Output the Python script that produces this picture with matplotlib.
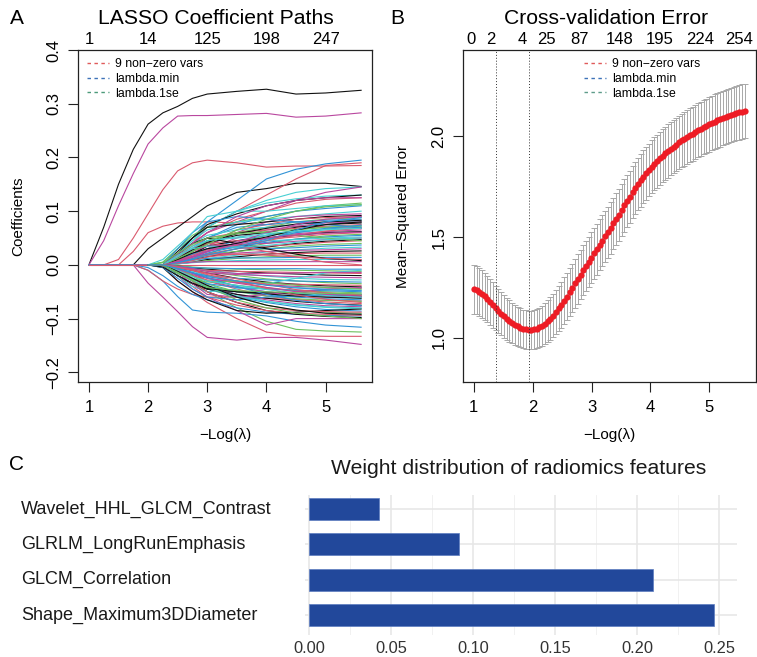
import matplotlib

matplotlib.use("Agg")

import matplotlib.pyplot as plt
import matplotlib.transforms as mtransforms
from matplotlib.lines import Line2D
from matplotlib.ticker import MultipleLocator

plt.rcParams["font.family"] = ["Liberation Sans", "DejaVu Sans"]

# ---------------- panel A: LASSO coefficient paths ----------------
path_knots = [1.0, 1.25, 1.5, 1.75, 2.0, 2.25, 2.5, 2.75, 3.0, 3.5, 4.0, 4.5, 5.0, 5.6]

lead_paths = [
    [0, 0.07, 0.15, 0.215, 0.262, 0.283, 0.295, 0.31, 0.318, 0.323, 0.327, 0.318, 0.32, 0.325],
    [0, 0.045, 0.11, 0.17, 0.225, 0.255, 0.277, 0.278, 0.278, 0.28, 0.282, 0.275, 0.277, 0.283],
    [0, 0, 0.01, 0.05, 0.095, 0.14, 0.175, 0.19, 0.195, 0.19, 0.182, 0.184, 0.184, 0.185],
    [0, 0, 0, 0.025, 0.06, 0.072, 0.078, 0.08, 0.08, 0.078, 0.075, 0.072, 0.07, 0.068],
    [0, 0, 0, 0, 0.03, 0.05, 0.07, 0.09, 0.11, 0.135, 0.142, 0.152, 0.152, 0.146],
    [0, 0, 0, 0, 0, 0, 0.02, 0.05, 0.08, 0.12, 0.16, 0.178, 0.188, 0.195],
    [0, 0, 0, 0, 0, 0, 0.015, 0.04, 0.07, 0.1, 0.13, 0.16, 0.185, 0.19],
    [0, 0, 0, 0, -0.034, -0.06, -0.087, -0.115, -0.135, -0.14, -0.135, -0.135, -0.14, -0.148],
    [0, 0, 0, 0, 0, 0, -0.03, -0.05, -0.07, -0.1, -0.125, -0.132, -0.133, -0.133],
    [0, 0, 0, 0, 0, 0, -0.02, -0.035, -0.05, -0.08, -0.105, -0.12, -0.123, -0.125],
    [0, 0, 0, 0, -0.01, -0.03, -0.059, -0.084, -0.088, -0.09, -0.095, -0.105, -0.112, -0.116],
    [0, 0, 0, 0, 0, 0, -0.02, -0.045, -0.06, -0.085, -0.112, -0.1, -0.1, -0.1],
    [0, 0, 0, 0, 0, 0, 0.02, 0.045, 0.07, 0.1, 0.12, 0.135, 0.142, 0.145],
    [0, 0, 0, 0, 0, 0.005, 0.03, 0.05, 0.07, 0.1, 0.115, 0.123, 0.128, 0.13],
    [0, 0, 0, 0, 0, 0, 0.02, 0.04, 0.06, 0.08, 0.1, 0.12, 0.135, 0.145],
    [0, 0, 0, 0, -0.01, -0.03, -0.045, -0.055, -0.06, -0.06, -0.062, -0.065, -0.066, -0.067],
    [0, 0, 0, 0, -0.005, -0.02, -0.04, -0.055, -0.065, -0.08, -0.088, -0.092, -0.094, -0.095],
    [0, 0, 0, 0, 0, 0, 0, 0, 0, 0, 0, 0, 0, 0],
]
lead_colors = [
    "#111111", "#B9479F", "#DA5A6E", "#DA5A6E", "#111111", "#3193D6",
    "#DA5A6E", "#B9479F", "#DA5A6E", "#6CC05E", "#3193D6", "#B9479F",
    "#48CFD3", "#48CFD3", "#B9479F", "#DA5A6E", "#3193D6", "#DA5A6E",
]

bulk_knots = [2.0, 2.25, 2.5, 2.75, 3.0, 3.5, 4.0, 4.5, 5.0, 5.6]
bulk_paths = [
    [0, 0, 0.02, 0.05, 0.075, 0.095, 0.11, 0.12, 0.125, 0.13],
    [0, 0, 0.015, 0.04, 0.06, 0.085, 0.1, 0.115, 0.122, 0.125],
    [0, 0.005, 0.03, 0.055, 0.07, 0.08, 0.09, 0.1, 0.11, 0.115],
    [0, 0, 0.01, 0.03, 0.05, 0.075, 0.09, 0.1, 0.105, 0.11],
    [0, 0, 0.02, 0.045, 0.065, 0.08, 0.085, 0.09, 0.095, 0.1],
    [0, 0, 0.01, 0.02, 0.035, 0.06, 0.08, 0.09, 0.093, 0.095],
    [0, 0, 0.025, 0.05, 0.07, 0.075, 0.08, 0.085, 0.09, 0.092],
    [0, 0, 0.005, 0.02, 0.04, 0.065, 0.075, 0.085, 0.088, 0.09],
    [0, 0, 0.015, 0.03, 0.045, 0.06, 0.07, 0.08, 0.085, 0.088],
    [0, 0, 0.01, 0.03, 0.05, 0.07, 0.075, 0.08, 0.083, 0.085],
    [0, 0, 0.02, 0.04, 0.055, 0.065, 0.07, 0.075, 0.08, 0.082],
    [0, 0, 0.005, 0.015, 0.03, 0.05, 0.065, 0.072, 0.078, 0.08],
    [0, 0, 0.01, 0.025, 0.04, 0.055, 0.06, 0.07, 0.075, 0.078],
    [0, 0, 0.015, 0.035, 0.05, 0.06, 0.065, 0.068, 0.072, 0.075],
    [0, 0, 0.005, 0.01, 0.02, 0.04, 0.055, 0.065, 0.07, 0.072],
    [0, 0, 0.01, 0.02, 0.03, 0.045, 0.055, 0.062, 0.067, 0.07],
    [0, 0, 0.02, 0.035, 0.045, 0.05, 0.055, 0.06, 0.065, 0.068],
    [0, 0, 0.005, 0.015, 0.025, 0.04, 0.05, 0.058, 0.062, 0.065],
    [0, 0, 0.01, 0.02, 0.035, 0.045, 0.05, 0.055, 0.06, 0.062],
    [0, 0, 0.015, 0.03, 0.04, 0.045, 0.048, 0.052, 0.057, 0.06],
    [0, 0, 0.005, 0.01, 0.02, 0.03, 0.04, 0.048, 0.054, 0.057],
    [0, 0, 0.01, 0.02, 0.025, 0.035, 0.042, 0.048, 0.052, 0.055],
    [0, 0, 0.005, 0.015, 0.03, 0.04, 0.045, 0.047, 0.05, 0.052],
    [0, 0, 0.01, 0.025, 0.035, 0.038, 0.04, 0.044, 0.047, 0.05],
    [0, 0, 0.005, 0.01, 0.015, 0.025, 0.033, 0.04, 0.044, 0.047],
    [0, 0, 0.01, 0.015, 0.02, 0.03, 0.035, 0.038, 0.042, 0.045],
    [0, 0, 0.005, 0.01, 0.02, 0.025, 0.03, 0.035, 0.038, 0.04],
    [0, 0, 0.01, 0.02, 0.03, 0.032, 0.03, 0.032, 0.035, 0.037],
    [0, 0, 0.005, 0.008, 0.012, 0.018, 0.024, 0.028, 0.031, 0.033],
    [0, 0, 0.01, 0.015, 0.02, 0.022, 0.025, 0.027, 0.028, 0.03],
    [0, 0, 0.002, 0.005, 0.01, 0.015, 0.02, 0.023, 0.025, 0.026],
    [0, 0, 0.005, 0.012, 0.018, 0.02, 0.02, 0.021, 0.022, 0.022],
    [0, 0, 0.002, 0.005, 0.008, 0.012, 0.015, 0.017, 0.018, 0.018],
    [0, 0, 0.005, 0.01, 0.012, 0.013, 0.013, 0.014, 0.014, 0.014],
    [0, 0, 0.002, 0.004, 0.006, 0.008, 0.009, 0.01, 0.01, 0.01],
    [0, 0, 0.003, 0.005, 0.006, 0.006, 0.006, 0.006, 0.006, 0.006],
    [0, 0, 0.02, 0.04, 0.05, 0.04, 0.03, 0.02, 0.012, 0.008],
    [0, 0, 0.015, 0.03, 0.04, 0.035, 0.025, 0.015, 0.005, 0.0],
    [0, 0, 0.01, 0.025, 0.045, 0.06, 0.06, 0.055, 0.05, 0.045],
    [0, 0, 0.03, 0.06, 0.08, 0.09, 0.085, 0.08, 0.075, 0.07],
    [0, 0.01, 0.035, 0.06, 0.09, 0.1, 0.1, 0.105, 0.11, 0.112],
    [0, 0, 0.02, 0.04, 0.06, 0.09, 0.11, 0.12, 0.125, 0.125],
    [0, 0, 0.012, 0.028, 0.042, 0.058, 0.068, 0.076, 0.08, 0.083],
    [0, 0, 0.008, 0.018, 0.028, 0.036, 0.045, 0.055, 0.063, 0.068],
    [0, 0.004, 0.022, 0.038, 0.05, 0.058, 0.062, 0.066, 0.07, 0.073],
    [0, 0, 0.004, 0.012, 0.022, 0.034, 0.048, 0.06, 0.068, 0.074],
    [0, 0, 0.018, 0.03, 0.035, 0.033, 0.036, 0.042, 0.047, 0.05],
    [0, 0, 0.006, 0.014, 0.024, 0.042, 0.06, 0.075, 0.085, 0.09],
    [0, 0, 0.01, 0.022, 0.03, 0.04, 0.052, 0.065, 0.075, 0.08],
    [0, 0, 0.003, 0.008, 0.015, 0.02, 0.018, 0.015, 0.012, 0.01],
    [0, 0, 0.012, 0.025, 0.038, 0.065, 0.085, 0.1, 0.108, 0.112],
    [0, 0, 0.004, 0.01, 0.018, 0.03, 0.045, 0.065, 0.08, 0.088],
    [0, 0, 0.015, 0.032, 0.045, 0.052, 0.058, 0.063, 0.066, 0.068],
    [0, 0, 0.007, 0.016, 0.026, 0.038, 0.05, 0.056, 0.059, 0.061],
    [0, 0, -0.01, -0.03, -0.05, -0.07, -0.085, -0.092, -0.096, -0.098],
    [0, 0, -0.02, -0.04, -0.06, -0.075, -0.085, -0.09, -0.092, -0.094],
    [0, 0, -0.01, -0.025, -0.04, -0.06, -0.075, -0.085, -0.088, -0.09],
    [0, 0, -0.015, -0.03, -0.045, -0.06, -0.07, -0.078, -0.083, -0.086],
    [0, 0, -0.005, -0.02, -0.035, -0.055, -0.068, -0.075, -0.079, -0.082],
    [0, 0, -0.01, -0.025, -0.04, -0.055, -0.065, -0.072, -0.076, -0.078],
    [0, 0, -0.02, -0.035, -0.045, -0.055, -0.062, -0.068, -0.072, -0.075],
    [0, 0, -0.005, -0.015, -0.03, -0.045, -0.058, -0.065, -0.069, -0.072],
    [0, 0, -0.01, -0.02, -0.035, -0.05, -0.058, -0.063, -0.066, -0.068],
    [0, 0, -0.015, -0.03, -0.04, -0.05, -0.055, -0.06, -0.063, -0.065],
    [0, 0, -0.005, -0.015, -0.025, -0.04, -0.05, -0.056, -0.06, -0.062],
    [0, 0, -0.01, -0.02, -0.03, -0.042, -0.05, -0.055, -0.058, -0.06],
    [0, 0, -0.02, -0.035, -0.045, -0.05, -0.052, -0.054, -0.056, -0.058],
    [0, 0, -0.005, -0.01, -0.02, -0.032, -0.042, -0.048, -0.052, -0.055],
    [0, 0, -0.01, -0.02, -0.03, -0.038, -0.044, -0.048, -0.05, -0.052],
    [0, 0, -0.015, -0.025, -0.035, -0.042, -0.045, -0.047, -0.048, -0.05],
    [0, 0, -0.005, -0.012, -0.02, -0.03, -0.037, -0.042, -0.045, -0.047],
    [0, 0, -0.01, -0.018, -0.025, -0.032, -0.037, -0.04, -0.042, -0.044],
    [0, 0, -0.005, -0.01, -0.015, -0.025, -0.032, -0.036, -0.039, -0.041],
    [0, 0, -0.01, -0.02, -0.028, -0.033, -0.035, -0.036, -0.037, -0.038],
    [0, 0, -0.003, -0.008, -0.012, -0.02, -0.026, -0.03, -0.033, -0.035],
    [0, 0, -0.008, -0.015, -0.02, -0.025, -0.028, -0.03, -0.031, -0.032],
    [0, 0, -0.003, -0.006, -0.01, -0.016, -0.021, -0.025, -0.027, -0.028],
    [0, 0, -0.005, -0.01, -0.015, -0.018, -0.02, -0.022, -0.023, -0.024],
    [0, 0, -0.002, -0.005, -0.008, -0.012, -0.015, -0.017, -0.019, -0.02],
    [0, 0, -0.005, -0.008, -0.01, -0.012, -0.013, -0.014, -0.015, -0.016],
    [0, 0, -0.002, -0.004, -0.006, -0.008, -0.009, -0.01, -0.011, -0.012],
    [0, 0, -0.003, -0.005, -0.006, -0.007, -0.007, -0.007, -0.008, -0.008],
    [0, 0, -0.02, -0.04, -0.05, -0.045, -0.035, -0.025, -0.015, -0.01],
    [0, 0, -0.015, -0.035, -0.055, -0.06, -0.055, -0.05, -0.045, -0.042],
    [0, -0.005, -0.03, -0.05, -0.065, -0.085, -0.09, -0.088, -0.085, -0.082],
    [0, 0, -0.01, -0.03, -0.05, -0.07, -0.08, -0.085, -0.087, -0.088],
    [0, 0, -0.005, -0.02, -0.04, -0.065, -0.08, -0.09, -0.095, -0.1],
    [0, -0.005, -0.025, -0.045, -0.06, -0.065, -0.06, -0.058, -0.056, -0.055],
    [0, 0, -0.012, -0.028, -0.042, -0.058, -0.068, -0.074, -0.078, -0.08],
    [0, 0, -0.008, -0.016, -0.024, -0.034, -0.042, -0.05, -0.055, -0.058],
    [0, -0.004, -0.02, -0.034, -0.044, -0.05, -0.054, -0.058, -0.06, -0.062],
    [0, 0, -0.004, -0.01, -0.018, -0.03, -0.044, -0.056, -0.064, -0.07],
    [0, 0, -0.016, -0.028, -0.032, -0.03, -0.033, -0.038, -0.042, -0.045],
    [0, 0, -0.006, -0.014, -0.024, -0.04, -0.055, -0.066, -0.072, -0.076],
    [0, 0, -0.01, -0.022, -0.03, -0.038, -0.046, -0.052, -0.057, -0.06],
    [0, 0, -0.003, -0.007, -0.012, -0.016, -0.016, -0.015, -0.014, -0.014],
    [0, 0, -0.012, -0.025, -0.038, -0.06, -0.075, -0.084, -0.09, -0.092],
    [0, 0, -0.004, -0.01, -0.016, -0.026, -0.036, -0.046, -0.052, -0.056],
    [0, 0, -0.014, -0.03, -0.042, -0.048, -0.05, -0.052, -0.053, -0.054],
    [0, 0, -0.007, -0.015, -0.022, -0.03, -0.038, -0.043, -0.046, -0.048],
]
path_palette = ["#111111", "#DA5A6E", "#6CC05E", "#3193D6", "#48CFD3", "#B9479F"]

a_top_pos = [1, 2, 3, 4, 5]
a_top_counts = ["1", "14", "125", "198", "247"]

# ---------------- panel B: cross-validation error ----------------
log_lambda = [
    1.000, 1.046, 1.093, 1.139, 1.186, 1.232, 1.279, 1.325, 1.372, 1.418,
    1.465, 1.511, 1.558, 1.604, 1.651, 1.697, 1.743, 1.790, 1.836, 1.883,
    1.929, 1.976, 2.022, 2.069, 2.115, 2.162, 2.208, 2.255, 2.301, 2.347,
    2.394, 2.440, 2.487, 2.533, 2.580, 2.626, 2.673, 2.719, 2.766, 2.812,
    2.859, 2.905, 2.952, 2.998, 3.044, 3.091, 3.137, 3.184, 3.230, 3.277,
    3.323, 3.370, 3.416, 3.463, 3.509, 3.556, 3.602, 3.648, 3.695, 3.741,
    3.788, 3.834, 3.881, 3.927, 3.974, 4.020, 4.067, 4.113, 4.160, 4.206,
    4.253, 4.299, 4.345, 4.392, 4.438, 4.485, 4.531, 4.578, 4.624, 4.671,
    4.717, 4.764, 4.810, 4.857, 4.903, 4.949, 4.996, 5.042, 5.089, 5.135,
    5.182, 5.228, 5.275, 5.321, 5.368, 5.414, 5.461, 5.507, 5.554, 5.600,
]
cv_mean = [
    1.241, 1.236, 1.228, 1.218, 1.206, 1.193, 1.178, 1.163, 1.148, 1.134,
    1.120, 1.107, 1.095, 1.084, 1.074, 1.065, 1.057, 1.050, 1.045, 1.042,
    1.040, 1.040, 1.042, 1.046, 1.052, 1.060, 1.070, 1.082, 1.096, 1.111,
    1.128, 1.146, 1.165, 1.185, 1.205, 1.226, 1.248, 1.270, 1.292, 1.314,
    1.335, 1.356, 1.377, 1.398, 1.419, 1.440, 1.461, 1.482, 1.503, 1.524,
    1.545, 1.567, 1.589, 1.610, 1.632, 1.656, 1.678, 1.700, 1.721, 1.742,
    1.762, 1.781, 1.799, 1.816, 1.832, 1.847, 1.862, 1.876, 1.889, 1.902,
    1.914, 1.926, 1.937, 1.948, 1.958, 1.968, 1.978, 1.987, 1.996, 2.004,
    2.012, 2.020, 2.028, 2.036, 2.044, 2.051, 2.058, 2.065, 2.071, 2.077,
    2.083, 2.089, 2.094, 2.099, 2.104, 2.109, 2.113, 2.117, 2.121, 2.125,
]
cv_sd = [
    0.120, 0.119, 0.118, 0.117, 0.116, 0.115, 0.113, 0.112, 0.110, 0.109,
    0.107, 0.105, 0.104, 0.102, 0.101, 0.099, 0.098, 0.097, 0.096, 0.095,
    0.095, 0.095, 0.096, 0.097, 0.098, 0.100, 0.102, 0.104, 0.106, 0.108,
    0.110, 0.112, 0.114, 0.116, 0.117, 0.119, 0.120, 0.121, 0.122, 0.123,
    0.124, 0.124, 0.125, 0.125, 0.125, 0.126, 0.126, 0.126, 0.127, 0.127,
    0.127, 0.128, 0.128, 0.128, 0.128, 0.129, 0.129, 0.129, 0.129, 0.130,
    0.130, 0.130, 0.130, 0.131, 0.131, 0.131, 0.131, 0.131, 0.132, 0.132,
    0.132, 0.132, 0.132, 0.133, 0.133, 0.133, 0.133, 0.133, 0.133, 0.134,
    0.134, 0.134, 0.134, 0.134, 0.134, 0.134, 0.135, 0.135, 0.135, 0.135,
    0.135, 0.135, 0.135, 0.135, 0.135, 0.135, 0.135, 0.135, 0.135, 0.135,
]
lambda_1se = 1.378
lambda_min = 1.930

b_top_pos = [0.956, 1.294, 1.818, 2.240, 2.800, 3.480, 4.160, 4.840, 5.510]
b_top_counts = ["0", "2", "4", "25", "87", "148", "195", "224", "254"]

# ---------------- panel C: feature weights ----------------
features = [
    "Wavelet_HHL_GLCM_Contrast",
    "GLRLM_LongRunEmphasis",
    "GLCM_Correlation",
    "Shape_Maximum3DDiameter",
]
weights = [0.043, 0.0915, 0.21, 0.247]

legend_labels = ["9 non\u2212zero vars", "lambda.min", "lambda.1se"]

W, H = 757, 657
fig = plt.figure(figsize=(W / 100, H / 100), dpi=100)


def px_axes(left, top, right, bottom):
    return fig.add_axes([left / W, 1 - bottom / H, (right - left) / W, (bottom - top) / H])


def r_style(ax, yticks):
    for s in ax.spines.values():
        s.set_linewidth(0.9)
        s.set_color("#222222")
    ax.set_xlim(0.816, 5.784)
    ax.set_xticks([1, 2, 3, 4, 5])
    ax.set_yticks(yticks)
    ax.tick_params(direction="out", length=7, width=0.8, labelsize=12, color="#222222")
    ax.tick_params(axis="x", pad=6)
    ax.tick_params(axis="y", pad=5)
    for lab in ax.get_yticklabels():
        lab.set_rotation(90)
        lab.set_va("center")
    ax.set_xlabel("\u2212Log(\u03bb)", fontsize=11, labelpad=9)


def r_legend(ax, colors, anchor):
    handles = [Line2D([0], [0], color=c, lw=1.0, dashes=(2.5, 2.5)) for c in colors]
    ax.legend(handles, legend_labels, loc="upper left", bbox_to_anchor=anchor,
              frameon=False, fontsize=8.8, handlelength=1.8, handletextpad=0.5,
              labelspacing=0.22, borderaxespad=0, borderpad=0)


def top_counts(ax, pos, labels):
    sec = ax.secondary_xaxis("top")
    sec.set_xticks(pos, labels)
    sec.tick_params(length=0, pad=2, labelsize=12)
    sec.spines["top"].set_visible(False)


# ---- A ----
ax_a = px_axes(78, 50, 372, 382)
for row, col in zip(lead_paths, lead_colors):
    ax_a.plot(path_knots, row, color=col, lw=0.8)
for i, row in enumerate(bulk_paths):
    ax_a.plot(bulk_knots, row, color=path_palette[i % len(path_palette)], lw=0.8)
ax_a.set_ylim(-0.218, 0.4)
r_style(ax_a, [-0.2, -0.1, 0.0, 0.1, 0.2, 0.3, 0.4])
ax_a.set_ylabel("Coefficients", fontsize=11, labelpad=15)
top_counts(ax_a, a_top_pos, a_top_counts)
r_legend(ax_a, ["#E05A5A", "#3D72B8", "#4C9A7A"], (0.03, 0.975))
fig.text(216 / W, 1 - 18 / H, "LASSO Coefficient Paths", ha="center", va="center", fontsize=15.2)

# ---- B ----
ax_b = px_axes(463, 50, 755.5, 382)
ax_b.errorbar(log_lambda, cv_mean, yerr=cv_sd, fmt="none", ecolor="#A8A8A8",
              elinewidth=0.7, capsize=2.2, capthick=0.7)
ax_b.plot(log_lambda, cv_mean, "o", color="#EE1C25", ms=4.5, mec="none")
for v in (lambda_1se, lambda_min):
    ax_b.axvline(v, color="#333333", lw=0.7, ls=(0, (1, 2)))
ax_b.set_ylim(0.782, 2.426)
r_style(ax_b, [1.0, 1.5, 2.0])
ax_b.set_ylabel("Mean\u2212Squared Error", fontsize=11, labelpad=15)
top_counts(ax_b, b_top_pos, b_top_counts)
r_legend(ax_b, ["#E05A5A", "#3D72B8", "#5E9C8A"], (0.415, 0.975))
fig.text(606 / W, 1 - 18 / H, "Cross-validation Error", ha="center", va="center", fontsize=15.2)

# ---- C ----
ax_c = px_axes(305, 495, 737, 635)
ax_c.barh(features[::-1], weights[::-1], height=0.62, color="#22489B",
          edgecolor="#5C7CC0", linewidth=0.5, zorder=3)
ax_c.set_xlim(-0.0024, 0.261)
ax_c.set_ylim(-0.567, 3.40)
ax_c.xaxis.set_minor_locator(MultipleLocator(0.025))
ax_c.set_xticks([0, 0.05, 0.10, 0.15, 0.20, 0.25], ["0.00", "0.05", "0.10", "0.15", "0.20", "0.25"])
ax_c.grid(axis="x", which="major", color="#E6E6E6", lw=1.1, zorder=0)
ax_c.grid(axis="x", which="minor", color="#EFEFEF", lw=0.6, zorder=0)
ax_c.grid(axis="y", which="major", color="#E6E6E6", lw=1.1, zorder=0)
for s in ax_c.spines.values():
    s.set_visible(False)
ax_c.tick_params(axis="both", which="both", length=0)
ax_c.tick_params(axis="x", labelsize=11.8, labelcolor="#333333", pad=4)
ax_c.tick_params(axis="y", labelleft=False)
lab_tr = mtransforms.blended_transform_factory(fig.transFigure, ax_c.transData)
for pos, name in enumerate(features[::-1]):
    ax_c.text(21 / W, pos, name, transform=lab_tr, ha="left", va="center",
              fontsize=13, color="#1A1A1A", clip_on=False)
fig.text(519 / W, 1 - 468 / H, "Weight distribution of radiomics features",
         ha="center", va="center", fontsize=15.2, color="#1A1A1A")

# panel letters
fig.text(17 / W, 1 - 18 / H, "A", ha="center", va="center", fontsize=15)
fig.text(397 / W, 1 - 18 / H, "B", ha="center", va="center", fontsize=15)
fig.text(17 / W, 1 - 465 / H, "C", ha="center", va="center", fontsize=15)

fig.savefig("out.png", dpi=100)
